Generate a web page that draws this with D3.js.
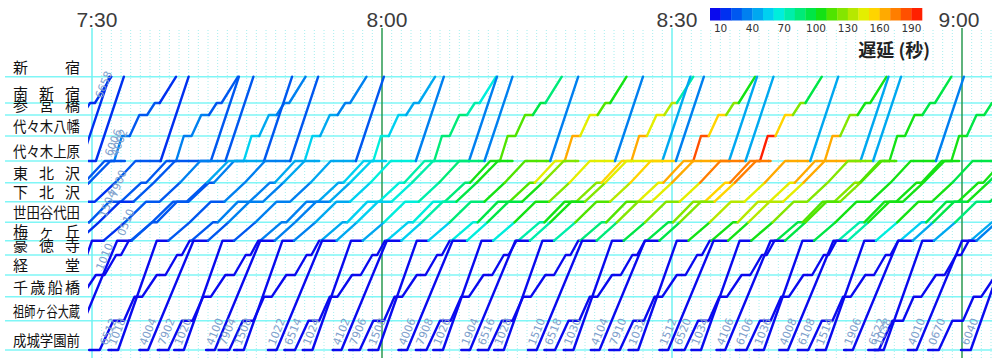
<!DOCTYPE html>
<html>
<head>
<meta charset="utf-8">
<script src="https://cdn.jsdelivr.net/npm/d3@7"></script>
<style>
  html, body { margin: 0; padding: 0; background: #fff; }
  svg { display: block; }
</style>
</head>
<body>
<svg id="chart" width="992" height="358"></svg>
<script>
// stations, top (新宿) to bottom (成城学園前)
const stations = ['新宿', '南新宿', '参宮橋', '代々木八幡', '代々木上原', '東北沢', '下北沢',
  '世田谷代田', '梅ヶ丘', '豪徳寺', '経堂', '千歳船橋', '祖師ヶ谷大蔵', '成城学園前'];
// vertical spacing of the stations on the diagram
const stationDist = [0, 26.3, 38.3, 59.3, 84.3, 106, 125, 145.6, 164, 178.3, 198.3, 220, 244, 273.3];

// minutes after 7:30
const timeTicks = [0, 30, 60, 90];
const timeLabels = ['7:30', '8:00', '8:30', '9:00'];

// delay legend, one colour per 10 s
const delayColors = ['#0a0aee', '#0030f0', '#0058f0', '#0080f0', '#00a8f0', '#00d0f0', '#00eedc',
  '#00eeaa', '#00ea78', '#00e646', '#14e214', '#50e400', '#84e600', '#b6e800', '#e4ee00',
  '#ffd400', '#ffaa00', '#ff7e00', '#ff5000', '#ff2000'];
const delayTicks = [10, 40, 70, 100, 130, 160, 190];
const quadDelay = 5; // 成城学園前〜梅ヶ丘: every train on time

// running patterns: [station, minutes after arriving at 成城学園前]
const runA = [[13, 0], [13, 0.9], [8, 5.6], [8, 7.1], [7, 9.2], [6, 11.4], [6, 12.8], [5, 14.9],
  [4, 17.1], [4, 18.6]];
const runAS = [[13, 0], [13, 0.9], [8, 5.6], [8, 7.1], [7, 9.2], [6, 11.4], [6, 12.8], [5, 14.9],
  [4, 17.1], [4, 20.8], [0, 23.7]];
const runB = [[13, 0], [13, 1.0], [8, 5.0], [8, 6.2], [7, 8.4], [6, 10.6], [6, 12.0], [5, 14.1],
  [4, 16.2], [4, 18.8], [0, 21.7]];
const runL = [[13, 0], [13, 1.1], [12, 2.5], [12, 3.6], [11, 4.7], [11, 5.5], [10, 7.0], [10, 7.9],
  [9, 9.1], [9, 9.6], [8, 10.4], [8, 10.6], [7, 12.8], [7, 13.3], [6, 15.4], [6, 16.6],
  [5, 18.7], [5, 19.2], [4, 21.3], [4, 22.3], [3, 23.1], [3, 23.9], [2, 24.9], [2, 25.7],
  [1, 26.5], [1, 27.0], [0, 28.7]];

const trainNos = ['6658', '', '6006', '', '4002', '7900', '', '1504', '1010', '', '0510', '6512',
  '1018', '4004', '7902', '1020', '4100', '7904', '1508', '1022', '6514', '1024', '4102', '7906',
  '1508', '4006', '7908', '1026', '1904', '6516', '1028', '1510', '6518', '1030', '4104', '7910',
  '1032', '1512', '6520', '1034', '4106', '6106', '1036', '4008', '6108', '1514', '1906', '6522',
  '1038', '4010', '0670', '6040'];
const trainRuns = ['L', 'AS', 'L', 'B', 'A', 'L', 'B', 'AS', 'L', 'B', 'AS', 'L',
  'B', 'A', 'L', 'B', 'A', 'L', 'B', 'AS', 'L', 'B', 'A', 'L',
  'B', 'A', 'L', 'B', 'AS', 'L', 'B', 'AS', 'L', 'B', 'A', 'L',
  'B', 'AS', 'L', 'B', 'A', 'L', 'B', 'A', 'L', 'B', 'AS', 'L',
  'B', 'A', 'L', 'B'];
// arrival at 成城学園前, minutes after 7:30
const trainStarts = [-26.7, -21.9, -20.0, -18.4, -15.2, -13.6, -11.7, -8.5, -6.6, -5.0, -3.0, -0.3,
  1.7, 4.9, 6.8, 8.5, 11.8, 13.1, 14.7, 18.2, 19.9, 21.8, 24.9, 26.6,
  28.6, 31.7, 33.5, 35.3, 38.2, 39.9, 41.6, 45.1, 46.8, 48.8, 51.6, 53.5,
  55.5, 58.7, 60.2, 62.0, 64.6, 66.6, 68.5, 71.1, 73.0, 74.9, 77.8, 80.3,
  80.9, 84.4, 86.5, 89.9];
// delay (s) at each station above 梅ヶ丘, in running order
const trainDelays = [
  [10, 10, 15, 15, 20, 20, 15, 15], [10, 10, 15, 15, 15], [10, 15, 15, 20, 30, 25, 20, 15],
  [10, 10, 10, 15, 15], [15, 15, 15, 20], [15, 20, 20, 25, 35, 30, 25, 20], [10, 15, 15, 20, 15],
  [15, 15, 20, 25, 20], [20, 25, 25, 35, 55, 40, 30, 30], [15, 20, 25, 30, 20], [20, 20, 25, 40, 25],
  [25, 30, 35, 40, 55, 45, 35, 30], [20, 25, 30, 35, 20], [25, 30, 35, 40],
  [30, 35, 40, 50, 60, 55, 45, 40], [25, 30, 35, 45, 25], [30, 35, 40, 50],
  [40, 55, 65, 75, 85, 80, 70, 60], [35, 45, 50, 60, 30], [40, 55, 65, 75, 35],
  [50, 65, 85, 100, 115, 110, 95, 85], [45, 60, 75, 85, 30], [50, 70, 90, 105],
  [60, 90, 110, 145, 160, 140, 115, 100], [55, 80, 100, 115, 35], [60, 90, 105, 125],
  [70, 100, 125, 150, 165, 140, 130, 70], [65, 100, 120, 140, 30], [70, 105, 125, 145, 40],
  [80, 115, 140, 165, 185, 150, 120, 100], [70, 110, 130, 155, 30], [80, 120, 140, 165, 45],
  [95, 125, 150, 170, 190, 155, 120, 95], [90, 125, 145, 170, 40], [95, 125, 150, 170],
  [100, 130, 145, 160, 165, 120, 105, 100], [100, 130, 145, 165, 45], [100, 130, 145, 160, 40],
  [95, 115, 120, 115, 105, 100, 95, 90], [100, 120, 125, 120, 40], [95, 115, 120, 115],
  [70, 100, 105, 105, 100, 95, 90, 80], [90, 105, 105, 100, 35], [70, 105, 105, 100],
  [50, 95, 100, 100, 95, 90, 80, 70], [60, 100, 100, 95, 30], [45, 95, 100, 95, 35],
  [40, 80, 90, 90, 85, 80, 70, 60], [40, 85, 90, 90, 30], [35, 70, 80, 80],
  [35, 60, 70, 70, 60, 50, 40, 30], [30, 50, 60, 60, 30]
];

const runTables = { A: runA, AS: runAS, B: runB, L: runL };

const width = 992, height = 358;
const svg = d3.select('#chart');

const x = d3.scaleLinear().domain([0, 90]).range([92, 962]);
const y = d3.scaleLinear().domain([0, 273.3]).range([76.7, 350]);
const color = d3.scaleQuantize().domain([0, 200]).range(delayColors);
const lx = d3.scaleLinear().domain([0, 200]).range([710, 922]);

// minute grid
const grid = svg.append('g');
grid.selectAll('line.min')
  .data(d3.range(0, 94).filter(m => !timeTicks.includes(m)))
  .join('line')
  .attr('x1', d => x(d)).attr('x2', d => x(d))
  .attr('y1', 30).attr('y2', height)
  .attr('stroke', '#a6eeee')
  .attr('stroke-width', 1)
  .attr('stroke-dasharray', '1,2');

// station lines
grid.selectAll('line.st')
  .data(stationDist)
  .join('line')
  .attr('x1', 5).attr('x2', width)
  .attr('y1', d => y(d)).attr('y2', d => y(d))
  .attr('stroke', '#7ff6f6')
  .attr('stroke-width', 1.6);

// half hour / hour lines
grid.selectAll('line.tick')
  .data(timeTicks)
  .join('line')
  .attr('x1', d => x(d)).attr('x2', d => x(d))
  .attr('y1', 28).attr('y2', height)
  .attr('stroke', d => d % 60 === 30 ? '#2a9a50' : '#6ff2f2')
  .attr('stroke-width', 1.5);

svg.selectAll('text.time')
  .data(timeTicks)
  .join('text')
  .attr('x', d => Math.min(x(d) + 5, width - 33))
  .attr('y', 27)
  .attr('text-anchor', 'middle')
  .style('font-family', '"Liberation Sans", Arial, sans-serif')
  .style('font-size', '21px')
  .attr('fill', '#3c3c3c')
  .text((d, i) => timeLabels[i]);

// station names, spread over a fixed width
svg.selectAll('text.station')
  .data(stations)
  .join('text')
  .attr('x', 13)
  .attr('y', (d, i) => y(stationDist[i]) - 4)
  .attr('textLength', 67)
  .attr('lengthAdjust', d => d.length > 4 ? 'spacingAndGlyphs' : 'spacing')
  .style('font-family', '"Noto Sans CJK JP", sans-serif')
  .style('font-size', '15px')
  .attr('fill', '#111')
  .text(d => d);

// trains
const clip = svg.append('clipPath').attr('id', 'plot');
clip.append('rect').attr('x', 88).attr('y', 0).attr('width', width - 88).attr('height', height);
const lines = svg.append('g').attr('clip-path', 'url(#plot)');
const labels = svg.append('g');
const path = d3.line().x(d => x(d[0])).y(d => y(stationDist[d[1]]));

trainStarts.forEach((t0, i) => {
  const run = runTables[trainRuns[i]];
  const pts = run.map(([s, dt]) => [t0 + dt, s]);
  const upper = [...new Set(run.map(d => d[0]).filter(s => s < 8))];
  const delayAt = s => s >= 8 ? quadDelay : trainDelays[i][upper.indexOf(s)];

  let cur = [pts[0]];
  let curColor = color(delayAt(pts[1][1]));
  const flush = () => {
    lines.append('path')
      .attr('d', path(cur))
      .attr('fill', 'none')
      .attr('stroke', curColor)
      .attr('stroke-width', 2.4)
      .attr('stroke-linejoin', 'round')
      .attr('stroke-linecap', 'round');
  };
  for (let j = 1; j < pts.length; j++) {
    const c = color(delayAt(pts[j][1]));
    if (c !== curColor) {
      flush();
      cur = [pts[j - 1]];
      curColor = c;
    }
    cur.push(pts[j]);
  }
  flush();

  const first = pts.find(p => p[0] >= 0);
  if (first && first[0] < 93 && trainNos[i]) {
    const px = x(first[0]) + 7, py = y(stationDist[first[1]]) - 4;
    labels.append('text')
      .attr('transform', `translate(${px},${py}) rotate(-68)`)
      .style('font-family', '"DejaVu Sans", sans-serif')
      .style('font-size', '11px')
      .attr('fill', '#7f9fcc')
      .text(trainNos[i]);
  }
});

// legend
const legend = svg.append('g');
legend.selectAll('rect')
  .data(delayColors)
  .join('rect')
  .attr('x', (d, i) => lx(i * 10))
  .attr('y', 8)
  .attr('width', lx(10) - lx(0) + 0.3)
  .attr('height', 12.5)
  .attr('fill', d => d);
legend.selectAll('text.tick')
  .data(delayTicks)
  .join('text')
  .attr('x', d => lx(d))
  .attr('y', 32)
  .attr('text-anchor', 'middle')
  .style('font-family', '"DejaVu Sans", sans-serif')
  .style('font-size', '10.5px')
  .attr('fill', '#333')
  .text(d => d);
legend.append('text')
  .attr('x', 930)
  .attr('y', 57)
  .attr('text-anchor', 'end')
  .style('font-family', '"Noto Sans CJK JP", sans-serif')
  .style('font-size', '18px')
  .style('font-weight', 'bold')
  .attr('fill', '#222')
  .text('遅延 (秒)');
</script>
</body>
</html>
